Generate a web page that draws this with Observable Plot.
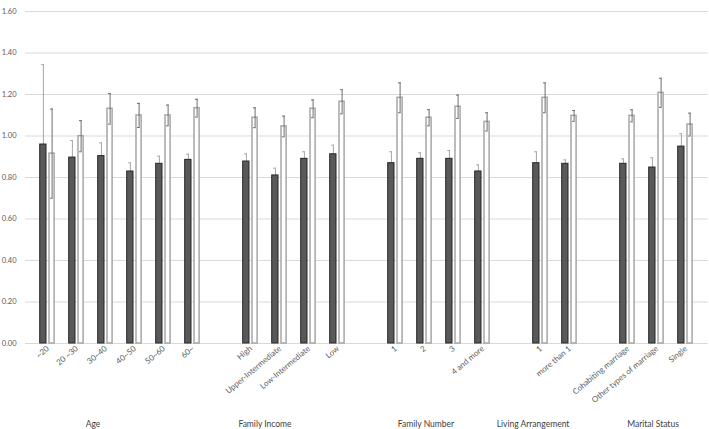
<!DOCTYPE html>
<html><head><meta charset="utf-8">
<script src="https://cdn.jsdelivr.net/npm/d3@7"></script>
<script src="https://cdn.jsdelivr.net/npm/@observablehq/plot@0.6"></script>
<style>body{margin:0;background:#fff} svg{display:block}</style>
</head><body><div id="chart"></div>
<script>
const groups = ["Age","Family Income","Family Number","Living Arrangement","Marital Status"];
const categories = [
  ["~20","20 ~30","30~40","40~50","50~60","60~"],
  ["High","Upper-Intermediate","Low-Intermediate","Low"],
  ["1","2","3","4 and more"],
  ["1","more than 1"],
  ["Cohabiting marriage","Other types of marriage","Single"]
];
const darkValues = [
  [0.959,0.896,0.903,0.829,0.866,0.885],
  [0.877,0.810,0.890,0.912],
  [0.869,0.890,0.890,0.829],
  [0.869,0.866],
  [0.866,0.848,0.949]
];
const darkErrors = [
  [0.385,0.082,0.064,0.042,0.037,0.027],
  [0.037,0.035,0.034,0.044],
  [0.055,0.029,0.040,0.032],
  [0.055,0.019],
  [0.024,0.047,0.062]
];
const whiteValues = [
  [0.915,0.999,1.131,1.099,1.099,1.134],
  [1.088,1.046,1.131,1.165],
  [1.184,1.088,1.141,1.068],
  [1.184,1.097],
  [1.097,1.208,1.055]
];
const whiteErrors = [
  [0.215,0.075,0.074,0.058,0.050,0.043],
  [0.048,0.050,0.043,0.058],
  [0.072,0.039,0.056,0.044],
  [0.072,0.026],
  [0.029,0.070,0.055]
];
const yTicks = [0,0.2,0.4,0.6,0.8,1.0,1.2,1.4,1.6];
// group label anchor category (index within group) and nudge
const groupLabelAnchor = [2,0,1,0,1];
const groupLabelDx = [-13,14,1,-8,-4];

const domain = [];
const rows = [];
groups.forEach((g, gi) => {
  if (gi > 0) domain.push("gap" + gi);
  categories[gi].forEach((c, ci) => {
    const key = g + "|" + c;
    domain.push(key);
    rows.push({key, dv: darkValues[gi][ci], de: darkErrors[gi][ci], wv: whiteValues[gi][ci], we: whiteErrors[gi][ci]});
  });
});
const groupLabelMarks = groups.map((g, gi) =>
  Plot.text([{label: g, key: g + "|" + categories[gi][groupLabelAnchor[gi]]}], {
    x: "key", text: "label", frameAnchor: "bottom", dy: 83, dx: groupLabelDx[gi],
    fontSize: 8.5, fill: "#404040"
  })
);

const darkFill = "#595959", darkStroke = "#262626", darkErr = "#a6a6a6";
const whiteStroke = "#a6a6a6", whiteErr = "#6e6e6e";

const chart = Plot.plot({
  width: 709, height: 429,
  marginLeft: 25, marginRight: 1.5, marginTop: 11, marginBottom: 86,
  style: {fontFamily: "Lato, 'Open Sans', sans-serif", color: "#595959", background: "#fff"},
  x: {type: "band", domain, padding: 0},
  y: {domain: [0, 1.6]},
  marks: [
    Plot.ruleY(yTicks, {stroke: "#d9d9d9", strokeWidth: 1}),
    Plot.axisY({ticks: yTicks, tickFormat: d3.format(".2f"), tickSize: 0, tickPadding: 9, fontSize: 7.5, fill: "#595959", label: null}),
    Plot.axisX({tickFormat: k => k.startsWith("gap") ? "" : k.split("|")[1], tickRotate: -40, tickSize: 0, tickPadding: 4, fontSize: 8, fill: "#595959", label: null}),
    Plot.ruleX(rows, {x: "key", y1: d => d.dv - d.de, y2: d => d.dv + d.de, dx: -4.6, stroke: darkErr, strokeWidth: 1}),
    Plot.barY(rows, {x: "key", y: "dv", fill: darkFill, stroke: darkStroke, strokeWidth: 1, insetLeft: 6.7, insetRight: 16}),
    Plot.tickY(rows, {x: "key", y: d => d.dv + d.de, stroke: darkErr, strokeWidth: 1, insetLeft: 8.2, insetRight: 18.2}),
    Plot.barY(rows, {x: "key", y: "wv", fill: "#fff", stroke: whiteStroke, strokeWidth: 1.5, insetLeft: 16, insetRight: 7.9}),
    Plot.ruleX(rows, {x: "key", y1: d => d.wv - d.we, y2: d => d.wv + d.we, dx: 4.1, stroke: whiteErr, strokeWidth: 1}),
    Plot.tickY(rows, {x: "key", y: d => d.wv + d.we, stroke: whiteErr, strokeWidth: 1, insetLeft: 17, insetRight: 9.2}),
    Plot.tickY(rows, {x: "key", y: d => d.wv - d.we, stroke: whiteErr, strokeWidth: 1, insetLeft: 17, insetRight: 9.2}),
    ...groupLabelMarks
  ]
});
document.getElementById("chart").appendChild(chart);
</script>
</body></html>
